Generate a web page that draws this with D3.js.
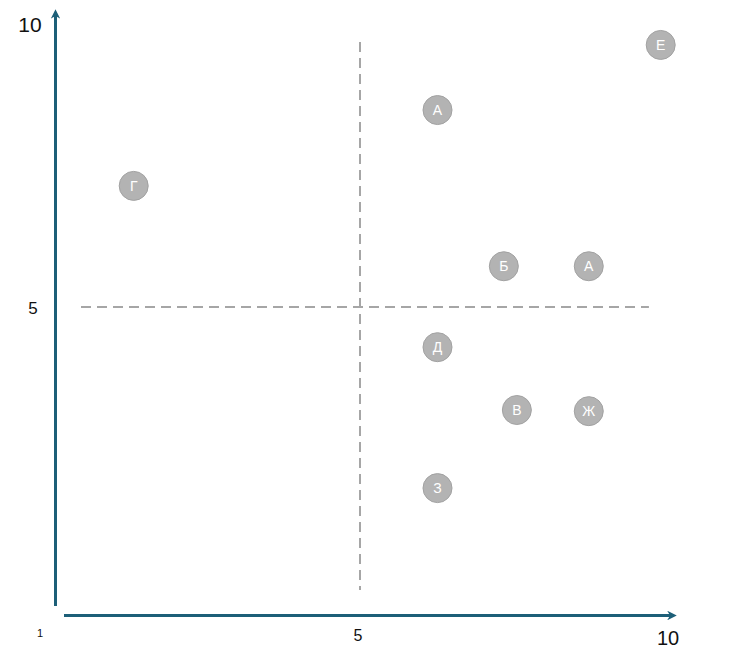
<!DOCTYPE html>
<html>
<head>
<meta charset="utf-8">
<script src="https://cdn.jsdelivr.net/npm/d3@7"></script>
<style>
  body { margin: 0; background: #fff; }
  text { font-family: "Liberation Sans", Arial, sans-serif; }
</style>
</head>
<body>
<div id="chart"></div>
<script>
// point data
var labels = ["Г", "А", "Е", "Б", "А", "Д", "В", "Ж", "З"];
var xValues = [1.35, 6.25, 9.85, 7.32, 8.69, 6.25, 7.53, 8.69, 6.25];
var yValues = [7.14, 8.48, 9.63, 5.72, 5.72, 4.29, 3.18, 3.16, 1.8];

// axis tick labels (value on scale, text shown)
var xTickValues = [0, 5, 10];
var xTickLabels = ["1", "5", "10"];
var yTickValues = [5, 10];
var yTickLabels = ["5", "10"];

// quadrant divider lines
var vDivider = {x: 5, y0: 0, y1: 9.68};
var hDivider = {y: 5, x0: 0.5, x1: 9.66};

var width = 731, height = 656;
var axisColor = "#1d5f78";

var svg = d3.select("#chart").append("svg")
  .attr("width", width)
  .attr("height", height);

var x = d3.scaleLinear().domain([0, 10]).range([50, 670]);
var y = d3.scaleLinear().domain([0, 10]).range([590, 24]);

//arrow marker
svg.append("defs").append("marker")
  .attr("id", "arrow")
  .attr("viewBox", "0 0 10 10")
  .attr("refX", 5).attr("refY", 5)
  .attr("markerWidth", 3.2).attr("markerHeight", 3.2)
  .attr("orient", "auto")
  .append("path")
    .attr("d", "M0,0 L10,5 L0,10 L3,5 z")
    .attr("fill", axisColor);

//axes
svg.append("line")
  .attr("x1", 55.5).attr("y1", 606)
  .attr("x2", 55.5).attr("y2", 14)
  .attr("stroke", axisColor).attr("stroke-width", 3)
  .attr("marker-end", "url(#arrow)");

svg.append("line")
  .attr("x1", 64).attr("y1", 615.5)
  .attr("x2", 672).attr("y2", 615.5)
  .attr("stroke", axisColor).attr("stroke-width", 3)
  .attr("marker-end", "url(#arrow)");

//tick labels
var xSizes = [11, 16, 20];
svg.append("g").selectAll("text")
  .data(xTickValues)
  .enter()
  .append("text")
    .attr("x", function(d, i) { return i === 0 ? 40 : x(d) - 2; })
    .attr("y", function(d, i) { return [637, 641, 645][i]; })
    .attr("text-anchor", "middle")
    .attr("font-size", function(d, i) { return xSizes[i] + "px"; })
    .attr("fill", "#111")
    .text(function(d, i) { return xTickLabels[i]; });

svg.append("g").selectAll("text")
  .data(yTickValues)
  .enter()
  .append("text")
    .attr("x", function(d, i) { return i === 0 ? 33 : 30; })
    .attr("y", function(d) { return y(d) + 1; })
    .attr("dy", "0.35em")
    .attr("text-anchor", "middle")
    .attr("font-size", function(d, i) { return i === 0 ? "17px" : "21px"; })
    .attr("fill", "#111")
    .text(function(d, i) { return yTickLabels[i]; });

//dashed dividers
svg.append("line")
  .attr("x1", x(vDivider.x)).attr("x2", x(vDivider.x))
  .attr("y1", y(vDivider.y1)).attr("y2", y(vDivider.y0))
  .attr("stroke", "#a6a6a6").attr("stroke-width", 2)
  .attr("stroke-dasharray", "10,6");

svg.append("line")
  .attr("x1", x(hDivider.x0)).attr("x2", x(hDivider.x1))
  .attr("y1", y(hDivider.y)).attr("y2", y(hDivider.y))
  .attr("stroke", "#a6a6a6").attr("stroke-width", 2)
  .attr("stroke-dasharray", "10,6");

//points
var points = labels.map(function(l, i) { return {label: l, x: xValues[i], y: yValues[i]}; });

var g = svg.append("g").selectAll("g")
  .data(points)
  .enter()
  .append("g")
    .attr("transform", function(d) { return "translate(" + x(d.x) + "," + y(d.y) + ")"; });

g.append("circle")
  .attr("r", 14.5)
  .attr("fill", "#b3b3b3")
  .attr("stroke", "#a2a2a2")
  .attr("stroke-width", 1);

g.append("text")
  .attr("text-anchor", "middle")
  .attr("dy", "0.36em")
  .attr("font-size", "14px")
  .attr("fill", "#fff")
  .text(function(d) { return d.label; });
</script>
</body>
</html>
